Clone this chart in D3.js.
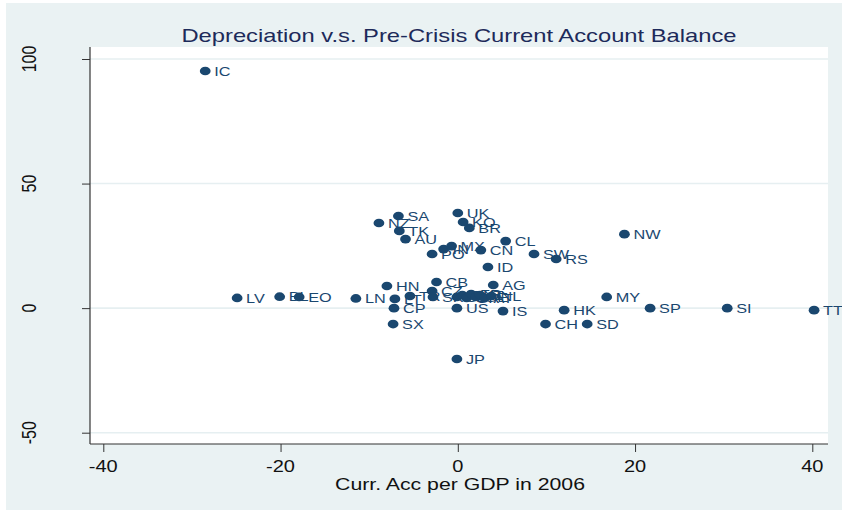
<html>
  <head>
    <script src="https://d3js.org/d3.v7.min.js"></script>
    <style>
      body { margin: 0; }
      text { font-family: "Liberation Sans", Arial, sans-serif; }
    </style>
  </head>
  <body>
    <svg width="842" height="512"></svg>
    <script>
      // country codes, current account per GDP in 2006, depreciation
      var codes = ["IC","LV","BL","EO","LN","HN","LT","TR","CP","SX",
                   "NZ","SA","TK","AU","PO","IN","MX","UK","KO","BR",
                   "CN","CL","ID","CB","AG","SW","RS","NW","MY","SP",
                   "SI","TT","HK","CH","SD","IS","US","JP","CZ","SK",
                   "SZ","DN","GR","FR","GE","IT","AT","NL"];
      var currAcc = [-28.5,-24.9,-20.1,-17.9,-11.5,-8.0,-7.1,-5.4,-7.2,-7.3,
                     -8.9,-6.7,-6.6,-5.9,-2.9,-1.6,-0.7,0.0,0.6,1.3,
                     2.6,5.4,3.4,-2.4,4.0,8.6,11.1,18.8,16.8,21.7,
                     30.4,40.2,12.0,9.9,14.6,5.1,-0.1,-0.1,-2.9,-2.8,
                     -0.1,0.5,1.0,1.5,2.0,2.5,3.0,3.8];
      var deprec = [95.2,4.1,4.6,4.5,3.9,8.9,3.7,4.9,0.0,-6.4,
                    34.2,37.0,31.0,27.7,21.7,23.7,24.9,38.2,34.6,32.2,
                    23.3,26.9,16.5,10.5,9.3,21.7,19.7,29.7,4.5,0.0,
                    0.0,-0.8,-0.8,-6.4,-6.4,-1.2,0.0,-20.4,6.9,4.5,
                    4.5,5.3,4.1,5.7,4.5,5.3,4.1,4.9];
      var xTicks = [-40, -20, 0, 20, 40];
      var yTicks = [-50, 0, 50, 100];

      var data = codes.map(function(c, i) {
        return {code: c, ca: currAcc[i], dep: deprec[i]};
      });

      var svg = d3.select("svg");
      var x = d3.scaleLinear().domain([-40, 40]).range([103.3, 812.3]);
      var y = d3.scaleLinear().domain([-50, 100]).range([432.7, 59]);
      var pLeft = 90, pRight = 828, pTop = 47, pBottom = 444;
      var sx = 1.25; // the picture is stretched sideways

      // outer background
      svg.append("rect")
        .attr("x", 6).attr("y", 3)
        .attr("width", 836).attr("height", 507)
        .attr("fill", "#eaf2f3");

      // plot region
      svg.append("rect")
        .attr("x", pLeft).attr("y", pTop)
        .attr("width", pRight - pLeft).attr("height", pBottom - pTop)
        .attr("fill", "white");

      // grid lines
      svg.append("g")
        .selectAll("line")
        .data(yTicks)
        .enter().append("line")
          .attr("x1", pLeft).attr("x2", pRight)
          .attr("y1", function(d) { return y(d); })
          .attr("y2", function(d) { return y(d); })
          .attr("stroke", "#e6eff1")
          .attr("stroke-width", 1.6);

      // y axis
      var yAxis = svg.append("g")
        .attr("transform", "translate(" + pLeft + ",0)")
        .call(d3.axisLeft(y).tickValues(yTicks).tickSize(8).tickFormat(""));
      yAxis.select(".domain").remove();
      yAxis.selectAll("line").attr("stroke", "#333");

      svg.append("g")
        .selectAll("text")
        .data(yTicks)
        .enter().append("text")
          .attr("transform", function(d) {
            return "translate(36," + y(d) + ") scale(" + sx + ",1) rotate(-90)";
          })
          .attr("text-anchor", "middle")
          .attr("font-size", "16px")
          .attr("fill", "#111")
          .text(function(d) { return d; });

      // x axis
      var xAxis = svg.append("g")
        .attr("transform", "translate(0," + pBottom + ")")
        .call(d3.axisBottom(x).tickValues(xTicks).tickSize(8).tickFormat(""));
      xAxis.select(".domain").remove();
      xAxis.selectAll("line").attr("stroke", "#333");

      svg.append("g")
        .selectAll("text")
        .data(xTicks)
        .enter().append("text")
          .attr("transform", function(d) {
            return "translate(" + x(d) + ",471.5) scale(" + sx + ",1)";
          })
          .attr("text-anchor", "middle")
          .attr("font-size", "16px")
          .attr("fill", "#111")
          .text(function(d) { return d; });

      // axis lines
      svg.append("line")
        .attr("x1", pLeft).attr("x2", pLeft)
        .attr("y1", pTop).attr("y2", pBottom)
        .attr("stroke", "#333").attr("stroke-width", 1.2);
      svg.append("line")
        .attr("x1", pLeft).attr("x2", pRight)
        .attr("y1", pBottom).attr("y2", pBottom)
        .attr("stroke", "#333").attr("stroke-width", 1.2);

      // title
      svg.append("text")
        .attr("transform", "translate(459,41.5) scale(" + sx + ",1)")
        .attr("text-anchor", "middle")
        .attr("font-size", "19px")
        .attr("fill", "#1d2a5a")
        .text("Depreciation v.s. Pre-Crisis Current Account Balance");

      // x axis title
      svg.append("text")
        .attr("transform", "translate(460,489.5) scale(" + sx + ",1)")
        .attr("text-anchor", "middle")
        .attr("font-size", "17px")
        .attr("fill", "#111")
        .text("Curr. Acc per GDP in 2006");

      // points with labels
      var pts = svg.append("g")
        .selectAll("g")
        .data(data)
        .enter().append("g");

      pts.append("ellipse")
        .attr("cx", function(d) { return x(d.ca); })
        .attr("cy", function(d) { return y(d.dep); })
        .attr("rx", 5.4)
        .attr("ry", 4.3)
        .attr("fill", "#1a476f");

      pts.append("text")
        .attr("transform", function(d) {
          return "translate(" + (x(d.ca) + 9) + "," + y(d.dep) + ") scale(" + sx + ",1)";
        })
        .attr("dy", "0.36em")
        .attr("font-size", "13px")
        .attr("fill", "#1a476f")
        .text(function(d) { return d.code; });
    </script>
  </body>
</html>
